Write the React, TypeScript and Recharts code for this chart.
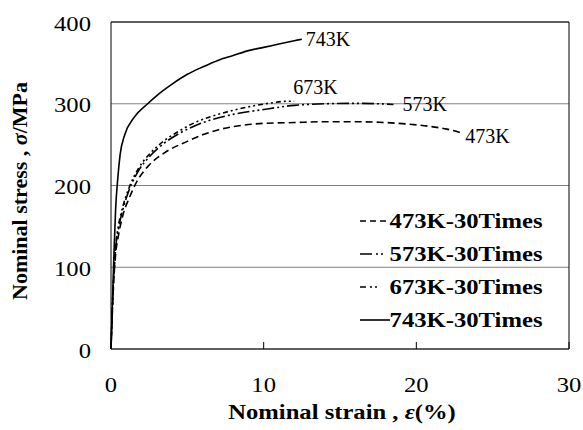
import React from "react";
import {
  LineChart,
  Line,
  XAxis,
  YAxis,
  CartesianGrid,
  ReferenceLine,
  Label,
} from "recharts";

// strain (%) / stress (MPa)
const strain473 = [0, 0.1, 0.2, 0.3, 0.5, 0.8, 1.2, 1.7, 2.5, 3.5, 5, 6, 7, 8, 10, 12, 14, 16, 18, 19.5, 21, 22, 23];
const stress473 = [0, 50, 90, 115, 140, 165, 185, 205, 225, 240, 254, 262, 268, 272, 276, 277, 278, 278, 277, 275, 272, 269, 264];

const strain573 = [0, 0.1, 0.2, 0.3, 0.5, 0.8, 1.2, 1.8, 2.5, 3.5, 4.5, 5.5, 6.5, 8, 10, 12, 14, 16, 17.5, 18.5];
const stress573 = [0, 55, 95, 122, 148, 172, 195, 218, 235, 252, 264, 273, 280, 287, 293, 298, 300, 300.5, 300, 299];

const strain673 = [0, 0.1, 0.2, 0.3, 0.5, 0.8, 1.2, 1.8, 2.5, 3.5, 4.5, 5.5, 6.5, 8, 9.5, 10.5, 11.5, 12];
const stress673 = [0, 58, 98, 125, 152, 176, 198, 221, 238, 255, 267, 277, 284, 292, 298, 301, 303, 303];

const strain743 = [0, 0.1, 0.2, 0.3, 0.45, 0.6, 0.9, 1.5, 2.4, 3, 4, 5, 6, 7, 8, 9, 10, 11, 12, 12.5];
const stress743 = [0, 60, 120, 170, 210, 238, 262, 283, 300, 310, 324, 336, 345, 353, 359, 365, 369, 373, 377, 379];

const xTicks = [0, 10, 20, 30];
const yTicks = [0, 100, 200, 300, 400];

const toRows = (xs: number[], ys: number[]) => xs.map((x, i) => ({ x, y: ys[i] }));

const FONT = '"Times New Roman", "Liberation Serif", serif';
// the reference text is a little wider than plain Times
const STRETCH = 1.12;

const series = [
  { name: "473K-30Times", tag: "473K", data: toRows(strain473, stress473), dash: "7 4", dx: 3, dy: 3, legendDash: "6 4" },
  { name: "573K-30Times", tag: "573K", data: toRows(strain573, stress573), dash: "12 3 2 3 2 3", dx: 9, dy: -1, legendDash: "12 4 2 3 2 20" },
  { name: "673K-30Times", tag: "673K", data: toRows(strain673, stress673), dash: "5 3 2 3 2 3", dx: -1, dy: -14, legendDash: "6 4 2 3 2 20" },
  { name: "743K-30Times", tag: "743K", data: toRows(strain743, stress743), dash: undefined, dx: 4, dy: 0, legendDash: undefined },
];

const WideText = ({ x, y, anchor, size, bold, children }: any) => (
  <text
    transform={`translate(${x},${y}) scale(${STRETCH},1)`}
    textAnchor={anchor}
    dominantBaseline="central"
    fontSize={size}
    fontWeight={bold ? "bold" : "normal"}
    fontFamily={FONT}
    fill="#000"
  >
    {children}
  </text>
);

const XTick = ({ x, y, payload }: any) => (
  <g>
    <line x1={x} x2={x} y1={y} y2={y - 7} stroke="#000" />
    <WideText x={x} y={y + 35} anchor="middle" size={22}>
      {payload.value}
    </WideText>
  </g>
);

const YTick = ({ x, y, payload }: any) => (
  <WideText x={x - 20} y={y + 1} anchor="end" size={22}>
    {payload.value}
  </WideText>
);

const endLabel = (tag: string, last: number, dx: number, dy: number) => (props: any) => {
  if (props.index !== last) return null;
  return (
    <text
      key={tag}
      x={props.x + dx}
      y={props.y + dy}
      textAnchor="start"
      dominantBaseline="central"
      fontSize={20}
      fontFamily={FONT}
      fill="#000"
    >
      {tag}
    </text>
  );
};

const LegendBox = () => (
  <div
    style={{
      position: "absolute",
      left: 330,
      top: 204,
      width: 212,
      fontFamily: FONT,
      fontWeight: "bold",
      fontSize: 22,
      lineHeight: 1,
    }}
  >
    {series.map((s) => (
      <div key={s.name} style={{ display: "flex", alignItems: "center", height: 33, justifyContent: "flex-end" }}>
        <svg width={30} height={10} style={{ marginRight: 16 }}>
          <line x1={0} x2={30} y1={5} y2={5} stroke="#000" strokeWidth={1.6} strokeDasharray={s.legendDash} />
        </svg>
        <span style={{ display: "inline-block", transform: `scaleX(${STRETCH})`, transformOrigin: "right center" }}>
          {s.name}
        </span>
      </div>
    ))}
  </div>
);

export default function App() {
  return (
    <div style={{ position: "absolute", left: 0, top: 0, width: 583, height: 430, background: "#fff" }}>
      <LineChart width={583} height={430} margin={{ top: 22, right: 14, bottom: 0, left: 0 }}>
        <CartesianGrid horizontal vertical={false} stroke="#808080" />
        <XAxis
          dataKey="x"
          type="number"
          domain={[0, 30]}
          ticks={xTicks}
          height={81}
          tickSize={0}
          tickMargin={0}
          tick={<XTick />}
          axisLine={{ stroke: "#000" }}
          tickLine={false}
        >
          <Label
            content={() => (
              <WideText x={342} y={411} anchor="middle" size={22} bold>
                Nominal strain , <tspan fontStyle="italic">ε</tspan>(%)
              </WideText>
            )}
          />
        </XAxis>
        <YAxis
          type="number"
          domain={[0, 400]}
          ticks={yTicks}
          width={111}
          tickSize={0}
          tickMargin={0}
          tick={<YTick />}
          axisLine={{ stroke: "#000" }}
          tickLine={false}
        >
          <Label
            content={() => (
              <text
                x={19}
                y={191}
                transform="rotate(-90, 19, 191)"
                textAnchor="middle"
                dominantBaseline="central"
                fontSize={22}
                fontWeight="bold"
                fontFamily={FONT}
                fill="#000"
              >
                Nominal stress , <tspan fontStyle="italic">σ</tspan>/MPa
              </text>
            )}
          />
        </YAxis>
        <ReferenceLine y={400} stroke="#000" />
        <ReferenceLine x={30} stroke="#000" />
        {series.map((s) => (
          <Line
            key={s.name}
            name={s.name}
            data={s.data}
            dataKey="y"
            type="monotone"
            stroke="#000"
            strokeWidth={1.6}
            strokeDasharray={s.dash}
            dot={false}
            isAnimationActive={false}
            label={endLabel(s.tag, s.data.length - 1, s.dx, s.dy)}
          />
        ))}
      </LineChart>
      <LegendBox />
    </div>
  );
}
